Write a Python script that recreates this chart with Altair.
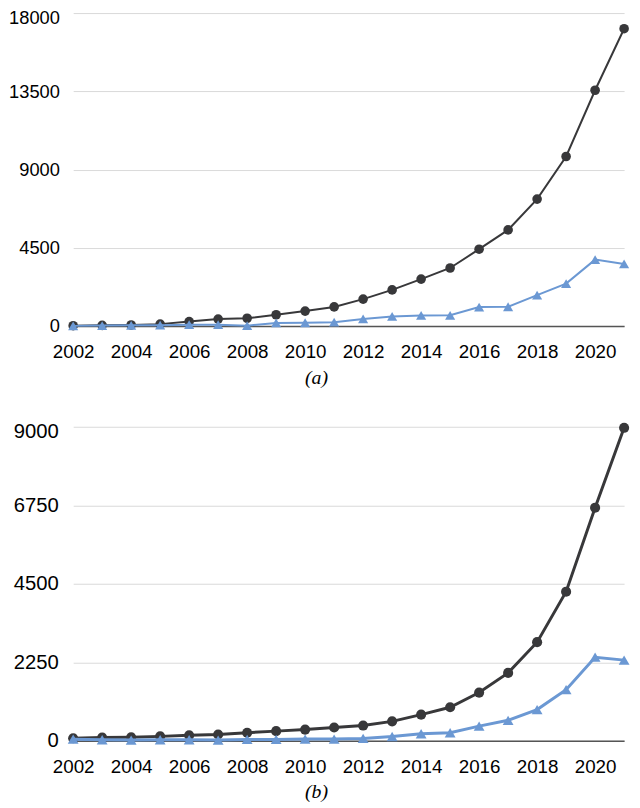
import altair as alt
import pandas as pd

years = list(range(2002, 2022))

# Panel (a)
a_black = [20, 40, 60, 110, 260, 400, 450, 650, 860, 1100, 1550, 2080, 2700, 3340,
           4420, 5530, 7300, 9750, 13560, 17100]
a_blue = [10, 30, 40, 50, 80, 80, 20, 180, 190, 220, 410, 550, 610, 620,
          1090, 1110, 1780, 2440, 3820, 3570]

# Panel (b)
b_black = [70, 90, 100, 125, 155, 180, 230, 275, 320, 380, 435, 555, 750, 960,
           1380, 1945, 2825, 4272, 6680, 8970]
b_blue = [45, 28, 19, 28, 28, 19, 38, 38, 47, 47, 66, 122, 200, 230,
          420, 585, 893, 1465, 2395, 2310]

a_ticks = [0, 4500, 9000, 13500, 18000]
b_ticks = [0, 2250, 4500, 6750, 9000]
x_ticks = list(range(2002, 2021, 2))

FONT = "Liberation Sans"
SERIF = "Liberation Serif"
BLACK = "#38383a"
BLUE = "#6b98d3"
GRID = "#d9d9d9"
AXISLINE = "#555555"

W, H = 558, 737
A_ZERO, A_TOP = 317, 0
B_ZERO, B_TOP = 737, 419

xscale = alt.Scale(domain=[2002, 2021], nice=False, zero=False)


def x_axis(title, offset):
    return alt.Axis(
        values=x_ticks, format="d", orient="bottom", offset=offset,
        grid=False, ticks=False, tickSize=0, domain=True,
        domainColor=AXISLINE, domainWidth=1.5,
        labelFont=FONT, labelFontSize=19, labelColor="black", labelPadding=17,
        labelFlush=False, labelOverlap=False,
        title=title, titleFont=SERIF, titleFontStyle="italic",
        titleFontWeight="normal", titleFontSize=20, titleColor="black",
        titleX=246, titleY=58, titleAlign="center", titleBaseline="alphabetic",
    )


def y_axis(values, size, padding, top_value):
    return alt.Axis(
        values=values, format="d", orient="left", grid=True, gridColor=GRID,
        gridWidth=1, domain=False, ticks=False, tickSize=0,
        labelFont=FONT, labelFontSize=size, labelColor="black",
        labelPadding=padding, labelOverlap=False,
        labelOffset={"condition": {"test": f"datum.value == {top_value}", "value": 5}, "value": 0},
        title=None,
    )


def panel(black, blue, top_value, rng, xax, yax, lw, msize, tsize):
    df_k = pd.DataFrame({"year": years, "value": black})
    df_b = pd.DataFrame({"year": years, "value": blue})
    ysc = alt.Scale(domain=[0, top_value], range=rng, nice=False, zero=True)
    xe = alt.X("year:Q", scale=xscale, axis=xax)
    ye = alt.Y("value:Q", scale=ysc, axis=yax)
    k_line = alt.Chart(df_k).mark_line(color=BLACK, strokeWidth=lw).encode(x=xe, y=ye)
    k_pts = alt.Chart(df_k).mark_point(shape="circle", filled=True, color=BLACK,
                                       opacity=1, size=msize).encode(x=xe, y=ye)
    b_line = alt.Chart(df_b).mark_line(color=BLUE, strokeWidth=lw).encode(x=xe, y=ye)
    b_pts = alt.Chart(df_b).mark_point(shape="triangle-up", filled=True, color=BLUE,
                                       opacity=1, size=tsize).encode(x=xe, y=ye)
    return alt.layer(k_line, k_pts, b_line, b_pts)


top = panel(a_black, a_blue, 18000, [A_ZERO, A_TOP],
            x_axis("(a)", A_ZERO - H), y_axis(a_ticks, 18.5, 14, 18000), 2, 95, 105)
bottom = panel(b_black, b_blue, 9000, [B_ZERO, B_TOP],
               x_axis("(b)", 0), y_axis(b_ticks, 20.5, 15, 9000), 3, 105, 120)

chart = (
    alt.layer(top, bottom)
    .resolve_scale(y="independent")
    .resolve_axis(x="independent", y="independent")
    .properties(
        width=W, height=H,
        padding={"left": 66, "top": 0, "right": 8, "bottom": 63},
        autosize=alt.AutoSizeParams(type="none"),
        background="white",
    )
    .configure_view(strokeWidth=0)
)

chart.save("out.html", embed_options={"renderer": "svg", "actions": False})
